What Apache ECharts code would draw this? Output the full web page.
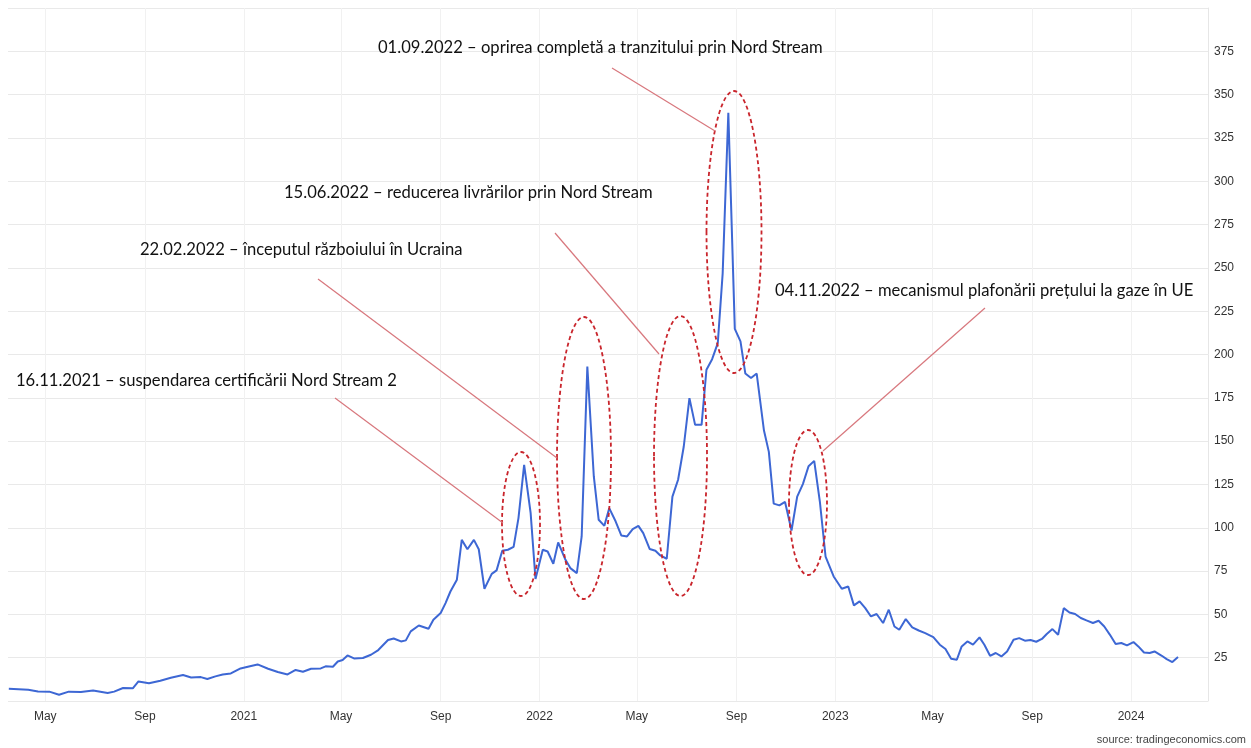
<!DOCTYPE html>
<html>
<head>
<meta charset="utf-8">
<script src="https://cdn.jsdelivr.net/npm/echarts@6/dist/echarts.min.js"></script>
<style>
html,body{margin:0;padding:0;background:#fff;}
#chart{width:1251px;height:748px;}
</style>
</head>
<body>
<div id="chart"></div>
<script>
// ---- DATA ----
const dates = [
'2020-03-17','2020-04-10','2020-04-22','2020-05-06','2020-05-18','2020-05-30','2020-06-14','2020-06-29','2020-07-17','2020-07-25','2020-08-05','2020-08-17','2020-08-24','2020-09-06','2020-09-20','2020-10-03','2020-10-18','2020-10-28','2020-11-09','2020-11-17','2020-11-27','2020-12-06','2020-12-16','2020-12-28',
'2021-01-06','2021-01-18','2021-01-31','2021-02-12','2021-02-24','2021-03-06','2021-03-15','2021-03-25','2021-04-06','2021-04-12','2021-04-21','2021-04-27','2021-05-03','2021-05-09','2021-05-17','2021-05-28','2021-06-07','2021-06-16','2021-06-28','2021-07-05','2021-07-14','2021-07-20','2021-07-26','2021-08-05','2021-08-17','2021-08-23','2021-09-01','2021-09-07','2021-09-13','2021-09-21','2021-09-27','2021-10-04','2021-10-12','2021-10-18','2021-10-25','2021-11-03','2021-11-09','2021-11-16','2021-11-23','2021-11-30','2021-12-06','2021-12-13','2021-12-21','2021-12-27',
'2022-01-05','2022-01-11','2022-01-18','2022-01-24','2022-02-02','2022-02-08','2022-02-16','2022-02-22','2022-03-01','2022-03-09','2022-03-15','2022-03-22','2022-03-28','2022-04-05','2022-04-12','2022-04-19','2022-04-26','2022-05-03','2022-05-09','2022-05-17','2022-05-24','2022-05-30','2022-06-07','2022-06-14','2022-06-21','2022-06-28','2022-07-05','2022-07-12','2022-07-20','2022-07-26','2022-08-02','2022-08-09','2022-08-15','2022-08-22','2022-08-30','2022-09-06','2022-09-12','2022-09-19','2022-09-26','2022-10-05','2022-10-11','2022-10-17','2022-10-24','2022-10-31','2022-11-08','2022-11-15','2022-11-22','2022-11-29','2022-12-06','2022-12-13','2022-12-20','2022-12-30',
'2023-01-09','2023-01-17','2023-01-24','2023-01-31','2023-02-07','2023-02-14','2023-02-21','2023-03-01','2023-03-08','2023-03-15','2023-03-21','2023-03-29','2023-04-06','2023-04-14','2023-04-22','2023-05-02','2023-05-10','2023-05-17','2023-05-24','2023-05-31','2023-06-06','2023-06-13','2023-06-20','2023-06-28','2023-07-04','2023-07-11','2023-07-18','2023-07-25','2023-08-01','2023-08-09','2023-08-16','2023-08-23','2023-08-30','2023-09-06','2023-09-13','2023-09-19','2023-09-26','2023-10-03','2023-10-10','2023-10-17','2023-10-24','2023-10-31','2023-11-07','2023-11-15','2023-11-22','2023-11-29','2023-12-06','2023-12-13','2023-12-20','2023-12-27',
'2024-01-04','2024-01-10','2024-01-17','2024-01-24','2024-01-30','2024-02-08','2024-02-14','2024-02-21','2024-02-28'
];
const prices = [
7.1,6.5,5.5,5.4,3.6,5.4,5.2,6.0,4.6,5.4,7.5,7.3,11.3,10.2,11.7,13.4,15.0,13.6,13.8,12.7,14.2,15.3,15.9,18.8,
19.8,21.1,18.6,16.7,15.3,17.9,16.9,18.6,18.8,20.0,19.8,22.8,23.7,26.3,24.6,24.8,26.7,29.4,35.2,36.1,34.4,35.0,40.2,43.6,41.7,46.9,50.8,56.5,63.2,70,93,87.6,93,87.6,64.8,73.4,75.4,86.7,87.3,89,105.6,136.3,108.6,70.4,
87.3,86.3,79.2,91.5,81.5,76.7,73.8,95,193,129.6,104.6,101.1,111.3,103.6,95.5,95,99.2,101.1,96.9,87.7,86.7,84,82.1,118,127.7,146.9,174.8,159.4,159.4,191.2,197.3,206.6,246.7,339.5,214.8,207.6,189,186.4,189,156.1,143.8,113.9,112.9,114.9,98.4,118,125.2,135.5,138.6,115,83.4,71.9,
64.8,66.1,55.2,57.5,53.6,48.8,50.2,45,52.7,43,41.1,47.3,42.5,40.7,39.2,36.9,32.5,30,24.4,23.8,31.5,34.4,32.5,36.7,32.5,26.1,27.7,25.7,28.6,35.4,36.3,34.8,35.2,34.2,35.8,38.7,41.5,38.2,53.6,51.1,50.2,47.9,46.5,45,46.3,43,38.2,32.9,33.5,32.1,
34,31.5,28,27.7,28.6,26.1,24.2,22.5,25.4
];
const xTickDates = ['2020-05-01','2020-09-01','2021-01-01','2021-05-01','2021-09-01','2022-01-01','2022-05-01','2022-09-01','2023-01-01','2023-05-01','2023-09-01','2024-01-01'];
const xTickLabels = ['May','Sep','2021','May','Sep','2022','May','Sep','2023','May','Sep','2024'];
const annotations = [
  '01.09.2022 – oprirea completă a tranzitului prin Nord Stream',
  '15.06.2022 – reducerea livrărilor prin Nord Stream',
  '22.02.2022 – începutul războiului în Ucraina',
  '04.11.2022 – mecanismul plafonării prețului la gaze în UE',
  '16.11.2021 – suspendarea certificării Nord Stream 2'
];
const sourceText = 'source: tradingeconomics.com';

// ---- CHART ----
const chart = echarts.init(document.getElementById('chart'), null, {renderer:'canvas'});
const ts = s => { const p = s.split('-').map(Number); return Date.UTC(p[0], p[1]-1, p[2]); };
const tickTs = xTickDates.map(ts);
const seriesData = dates.map((d,i)=>[ts(d), prices[i]]);

const annFont = '16.6px Lato, "Open Sans", sans-serif';
const redDash = {fill:'none', stroke:'#c9252c', lineWidth:1.8, lineDash:[4,3]};
const leader = {stroke:'#d8777d', lineWidth:1.2};

const ellipses = [
  {cx:521, cy:524, rx:19, ry:72},
  {cx:584, cy:458, rx:27, ry:141},
  {cx:680.5, cy:456, rx:26.5, ry:140},
  {cx:734, cy:232, rx:27.5, ry:141},
  {cx:808, cy:502.5, rx:19, ry:72.5}
];
const lines = [
  [612,68,715,131],
  [555,233,659,354],
  [318,279,557,458],
  [985,308,823,451],
  [335,398,503,523]
];
const textPos = [[378,48],[284,193],[140,250],[775,291],[16,381]];

const graphics = [];
ellipses.forEach(e=>graphics.push({type:'ellipse', z:100, silent:true, shape:e, style:redDash}));
lines.forEach(l=>graphics.push({type:'line', z:100, silent:true, shape:{x1:l[0],y1:l[1],x2:l[2],y2:l[3]}, style:leader}));
annotations.forEach((t,i)=>graphics.push({type:'text', z:100, silent:true, x:textPos[i][0], y:textPos[i][1],
  style:{text:t, font:annFont, fill:'#111', verticalAlign:'middle', align:'left'}}));
graphics.push({type:'text', z:100, silent:true, x:1246, y:740,
  style:{text:sourceText, font:'11px "Liberation Sans", Arial, sans-serif', fill:'#444', align:'right', verticalAlign:'middle'}});

chart.setOption({
  animation:false,
  backgroundColor:'#fff',
  grid:{left:8, right:43, top:8, bottom:47, containLabel:false},
  xAxis:{
    type:'value',
    min:ts('2020-03-16'), max:ts('2024-04-05'),
    axisLine:{show:false},
    axisTick:{show:false, customValues:tickTs},
    splitLine:{show:true, lineStyle:{color:'#f1f1f1', width:1}},
    axisLabel:{
      customValues:tickTs,
      margin:10,
      color:'#333',
      fontSize:12,
      fontFamily:'"Liberation Sans", Arial, sans-serif',
      formatter:function(v){
        const idx = tickTs.findIndex(t=>Math.abs(t-v)<43200000);
        return idx>=0 ? xTickLabels[idx] : '';
      }
    }
  },
  yAxis:{
    type:'value',
    position:'right',
    min:0, max:400, interval:25,
    axisLine:{show:true, lineStyle:{color:'#e6e6e6'}},
    axisTick:{show:false},
    splitLine:{show:true, lineStyle:{color:'#e9e9e9', width:1}},
    axisLabel:{
      margin:6,
      color:'#333',
      fontSize:12,
      fontFamily:'"Liberation Sans", Arial, sans-serif',
      formatter:function(v){ return (v===0||v===400)?'':String(v); }
    }
  },
  series:[{
    type:'line',
    data:seriesData,
    showSymbol:false,
    symbol:'none',
    lineStyle:{color:'#3d67d4', width:2},
    z:5
  }],
  graphic:graphics
});
</script>
</body>
</html>
